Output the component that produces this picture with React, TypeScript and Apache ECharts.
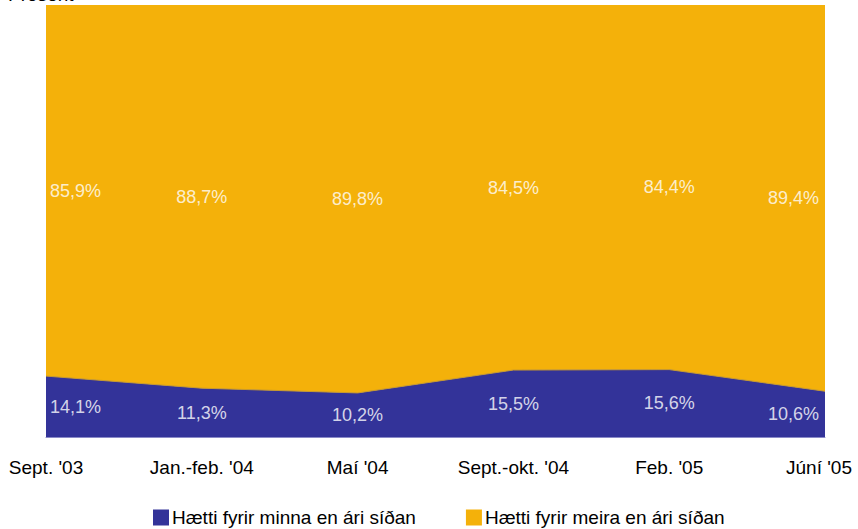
import React, { useEffect, useRef } from "react";
import * as echarts from "echarts";

const categories = ["Sept. '03", "Jan.-feb. '04", "Maí '04", "Sept.-okt. '04", "Feb. '05", "Júní '05"];
const lessThanYear = [14.1, 11.3, 10.2, 15.5, 15.6, 10.6];
const moreThanYear = [85.9, 88.7, 89.8, 84.5, 84.4, 89.4];
const seriesNames = ["Hætti fyrir minna en ári síðan", "Hætti fyrir meira en ári síðan"];
const axisTitle = "Prósent";

const BLUE = "#333399";
const ORANGE = "#F4B10A";
const FONT = "'Liberation Sans', Arial, sans-serif";

const fmt = (v: number) => v.toFixed(1).replace(".", ",") + "%";

export default function App() {
  const ref = useRef<HTMLDivElement>(null);
  useEffect(() => {
    if (!ref.current) return;
    const chart = echarts.init(ref.current, undefined, { renderer: "svg" });
    const n = categories.length;
    const labelCfg = (i: number) => {
      if (i === 0) return { align: "left", offset: [4, 0] };
      if (i === n - 1) return { align: "right", offset: [-6, 0] };
      return { align: "center", offset: [0, 0] };
    };
    const blueLabels = lessThanYear.map((v, i) => ({
      value: [i, v / 2],
      label: { ...labelCfg(i), formatter: fmt(v) },
    }));
    const orangeLabels = moreThanYear.map((v, i) => ({
      value: [i, lessThanYear[i] + v / 2],
      label: { ...labelCfg(i), formatter: fmt(v) },
    }));
    const labelSeries = (data: any[]) => ({
      type: "scatter",
      data,
      symbolSize: 0,
      silent: true,
      z: 10,
      label: {
        show: true,
        position: "inside",
        color: "#ffffff",
        fontFamily: FONT,
        fontSize: 18,
      },
    });
    const axisData = categories.map((c, i) =>
      i === n - 1 ? { value: c, textStyle: { padding: [0, 12, 0, 0] } } : c
    );
    chart.setOption({
      animation: false,
      textStyle: { fontFamily: FONT },
      grid: { left: 46, right: 33, top: 5, bottom: 92, containLabel: false },
      graphic: [
        {
          type: "text",
          x: 8,
          y: -15,
          style: { text: axisTitle, fontFamily: FONT, fontSize: 19, fill: "#000", verticalAlign: "top" },
        },
      ],
      legend: {
        bottom: -3,
        left: 148,
        itemWidth: 16,
        itemHeight: 16,
        itemGap: 50,
        icon: "rect",
        textStyle: { fontFamily: FONT, fontSize: 19, color: "#000", padding: [0, 0, 0, -2] },
        data: seriesNames,
      },
      xAxis: {
        type: "category",
        data: axisData,
        boundaryGap: false,
        axisLine: { show: true, lineStyle: { color: "#8a8ac8", width: 1 } },
        axisTick: { show: false },
        axisLabel: { color: "#000", fontFamily: FONT, fontSize: 19, margin: 21, interval: 0 },
      },
      yAxis: {
        type: "value",
        min: 0,
        max: 100,
        show: false,
        splitLine: { show: false },
      },
      series: [
        {
          name: seriesNames[0],
          type: "line",
          stack: "total",
          data: lessThanYear,
          symbol: "none",
          itemStyle: { color: BLUE },
          lineStyle: { color: "#c99a2a", width: 1 },
          areaStyle: { color: BLUE, opacity: 1 },
          z: 3,
        },
        {
          name: seriesNames[1],
          type: "line",
          stack: "total",
          data: moreThanYear,
          symbol: "none",
          itemStyle: { color: ORANGE },
          lineStyle: { width: 0 },
          areaStyle: { color: ORANGE, opacity: 1 },
          z: 2,
        },
        labelSeries(blueLabels),
        labelSeries(orangeLabels),
      ],
    });
    return () => chart.dispose();
  }, []);
  return (
    <div
      ref={ref}
      style={{ position: "absolute", left: 0, top: 0, width: 858, height: 529 }}
    />
  );
}
